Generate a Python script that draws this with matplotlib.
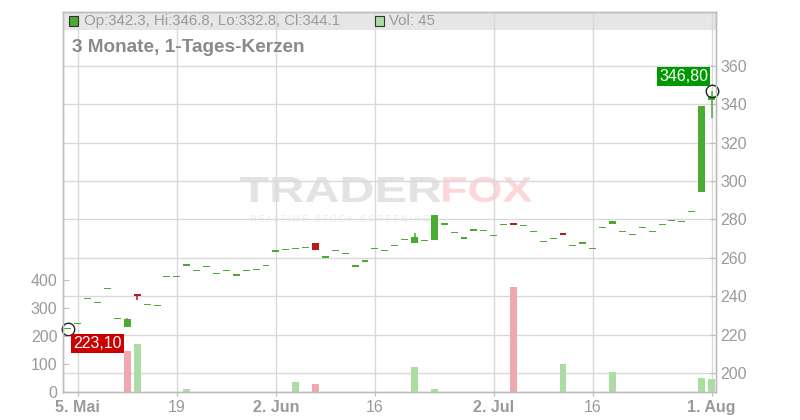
import matplotlib
matplotlib.use('Agg')
import matplotlib.pyplot as plt
from matplotlib.patches import Rectangle, PathPatch
from matplotlib.textpath import TextPath
from matplotlib.font_manager import FontProperties
from matplotlib.transforms import Affine2D
import numpy as np

plt.rcParams['font.family'] = ['Liberation Sans', 'DejaVu Sans']

# trading-day index of the labelled dates (first candle = 2 May)
tick_pos = [1, 11, 21, 31, 43, 53, 65]
tick_labels = ['5. Mai', '19', '2. Jun', '16', '2. Jul', '16', '1. Aug']
tick_bold = [True, False, True, False, True, False, True]

# daily candles
opens = [223.1, 225.9, 239.0, 236.9, 244.2, 228.4, 224.1, 241.2, 235.8, 235.3,
         250.4, 250.4, 256.0, 253.6, 255.6, 252.0, 253.6, 251.0, 253.6, 254.1,
         256.2, 263.6, 264.3, 264.9, 265.4, 267.8, 260.5, 263.7, 262.1, 255.8,
         258.4, 264.7, 263.7, 266.3, 269.4, 267.6, 268.9, 269.2, 277.6, 273.4,
         270.4, 274.5, 274.1, 271.5, 277.2, 278.4, 276.9, 273.7, 268.5, 270.0,
         272.9, 266.3, 267.8, 264.7, 275.7, 277.8, 273.7, 272.1, 275.7, 273.7,
         277.3, 279.4, 278.8, 284.0, 294.4, 342.3]
highs = [223.1, 225.9, 239.0, 236.9, 244.2, 228.4, 228.8, 241.2, 235.8, 235.3,
         250.4, 250.4, 256.7, 253.6, 255.6, 252.0, 253.6, 251.0, 253.6, 254.1,
         256.2, 263.6, 264.3, 264.9, 265.4, 267.8, 260.5, 263.7, 262.1, 255.8,
         258.4, 264.7, 263.7, 266.3, 269.4, 273.2, 268.9, 282.1, 277.6, 273.4,
         270.4, 274.5, 274.1, 271.5, 277.2, 278.4, 276.9, 273.7, 268.5, 270.0,
         272.9, 266.3, 267.8, 264.7, 275.7, 279.2, 273.7, 272.1, 275.7, 273.7,
         277.3, 279.4, 278.8, 284.0, 339.0, 346.8]
lows = [223.1, 225.9, 239.0, 236.9, 244.2, 228.4, 224.1, 238.1, 235.8, 235.3,
        250.4, 250.4, 256.0, 253.6, 255.6, 252.0, 253.6, 251.0, 253.6, 254.1,
        256.2, 263.6, 264.3, 264.9, 265.4, 264.0, 260.5, 263.7, 262.1, 255.8,
        258.4, 264.7, 263.7, 266.3, 269.4, 267.6, 268.9, 269.2, 277.6, 273.4,
        270.4, 274.5, 274.1, 271.5, 277.2, 277.0, 276.9, 273.7, 268.5, 270.0,
        272.0, 266.3, 267.8, 264.7, 275.7, 277.8, 273.7, 272.1, 275.7, 273.7,
        277.3, 279.4, 278.8, 284.0, 294.4, 332.8]
closes = [223.1, 225.9, 239.0, 236.9, 244.2, 228.4, 228.2, 239.9, 235.8, 235.3,
          250.4, 250.4, 256.7, 253.6, 255.6, 252.0, 253.6, 251.0, 253.6, 254.1,
          256.2, 263.6, 264.3, 264.9, 265.4, 264.0, 260.5, 263.7, 262.1, 255.8,
          258.4, 264.7, 263.7, 266.3, 269.4, 270.9, 268.9, 282.1, 277.6, 273.4,
          270.4, 274.5, 274.1, 271.5, 277.2, 277.0, 276.9, 273.7, 268.5, 270.0,
          272.0, 266.3, 267.8, 264.7, 275.7, 279.2, 273.7, 272.1, 275.7, 273.7,
          277.3, 279.4, 278.8, 284.0, 339.0, 344.1]
volumes = [0, 0, 0, 0, 0, 0, 146, 171, 0, 0,
           0, 0, 11, 0, 0, 0, 0, 0, 0, 0,
           0, 0, 0, 36, 0, 29, 0, 0, 0, 0,
           0, 0, 0, 0, 0, 89, 0, 11, 0, 0,
           0, 0, 0, 0, 0, 375, 0, 0, 0, 0,
           100, 0, 0, 0, 0, 71, 0, 0, 0, 0,
           0, 0, 0, 0, 50, 45]

UP, DOWN = '#4aab32', '#bb1a1a'
VUP, VDOWN = '#acdca4', '#f0a7b0'
GRID, SPINE, TXT = '#d9d9d9', '#bdbdbd', '#9a9a9a'

W, H = 800, 420
fig = plt.figure(figsize=(W / 100, H / 100), dpi=100)
ax = fig.add_axes([63 / W, 28 / H, (716 - 63) / W, 380 / H])
ax2 = ax.twinx()

x = np.arange(len(closes))
o = np.array(opens); c = np.array(closes)
hi = np.array(highs); lo = np.array(lows)

# candles
body_lo = np.minimum(o, c)
body_h = np.abs(c - o)
min_h = 0.65
draw_h = np.maximum(body_h, min_h)
bottoms = body_lo - (draw_h - body_h) / 2
cols = [UP if cc >= oo else DOWN for oo, cc in zip(o, c)]
wick = hi - lo > body_h + 0.01
ax.vlines(x[wick], lo[wick], hi[wick], colors=[cols[i] for i in np.where(wick)[0]],
          lw=1.1, zorder=3)
ax.bar(x, draw_h, bottom=bottoms, width=0.7, color=cols, linewidth=0, zorder=4)

ax.set_xlim(-0.5, 65.45)
ax.set_ylim(190.1, 388.1)
ax.set_yticks(range(200, 361, 20))
ax.yaxis.tick_right()
ax.set_xticks(tick_pos)
ax.set_xticklabels(tick_labels)
for lab, b in zip(ax.get_xticklabels(), tick_bold):
    if b:
        lab.set_fontweight('bold')
ax.tick_params(axis='x', length=3, color=SPINE, labelcolor=TXT, labelsize=11.5, pad=3)
ax.tick_params(axis='y', direction='in', length=4, color=SPINE, labelcolor=TXT,
               labelsize=11.5, pad=3)
ax.grid(True, color=GRID, lw=1)
ax.set_axisbelow(True)

# header band
ax.add_patch(Rectangle((0, 1 - 18 / 380), 1, 18 / 380, transform=ax.transAxes,
                       fc='#e6e6e6', ec='none', zorder=0.2))

# watermark
def box_text(s, x0, y0, x1, y1, color, weight='bold'):
    tp = TextPath((0, 0), s, size=1, prop=FontProperties(family='Liberation Sans', weight=weight))
    ext = tp.get_extents()
    tr = (Affine2D().translate(-ext.x0, -ext.y0)
          .scale((x1 - x0) / ext.width, (y1 - y0) / ext.height)
          .translate(x0, H - y1)
          .scale(1 / W, 1 / H) + fig.transFigure)
    ax.add_patch(PathPatch(tp, transform=tr, fc=color, ec='none', zorder=0.3))

box_text('TRADER', 240, 177, 441, 202, '#e3e3e3')
box_text('FOX', 443, 177, 532, 202, '#fdd6da')
box_text('R E A L T I M E   S T O C K   S C R E E N I N G', 251, 215, 429, 222, '#ececec',
         weight='normal')

# volume
v = np.array(volumes)
prev = np.concatenate([[c[0]], c[:-1]])
vcols = [VUP if cc >= pp else VDOWN for cc, pp in zip(c, prev)]
nz = v > 0
ax2.bar(x[nz], v[nz], width=0.7, color=[vcols[i] for i in np.where(nz)[0]],
        linewidth=0, zorder=2)
ax2.set_ylim(0, 380 / 0.28)
ax2.set_yticks([0, 100, 200, 300, 400])
ax2.yaxis.tick_left()
ax2.tick_params(axis='y', direction='in', length=4, color=SPINE, labelcolor=TXT,
                labelsize=11.5, pad=4)

for a in (ax, ax2):
    for sp in a.spines.values():
        sp.set_color(SPINE)
        sp.set_linewidth(1)

# low / high markers
i_lo = int(np.argmin(lo)); i_hi = int(np.argmax(hi))
for xi, yv in [(i_lo, lo[i_lo]), (i_hi, hi[i_hi])]:
    ax.plot([xi], [yv], 'o', mfc='none', mec='#222222', ms=9, mew=1, zorder=6, clip_on=False)
ax.annotate(f'{lo[i_lo]:.2f}'.replace('.', ','), xy=(i_lo, lo[i_lo]), xytext=(21.3, -10.4),
            textcoords='offset points', ha='center', va='center', color='white',
            fontsize=11.5, zorder=7,
            bbox=dict(boxstyle='square,pad=0.12', fc='#cc0000', ec='none'))
ax.annotate(f'{hi[i_hi]:.2f}'.replace('.', ','), xy=(i_hi, hi[i_hi]), xytext=(-20.2, 10.8),
            textcoords='offset points', ha='center', va='center', color='white',
            fontsize=11.5, zorder=7,
            bbox=dict(boxstyle='square,pad=0.12', fc='#009a00', ec='none'))

# legend row in header
fig.add_artist(Rectangle((69 / W, 1 - 26 / H), 9 / W, 10 / H, transform=fig.transFigure,
                         fc=UP, ec='#333333', lw=0.8))
fig.text(84 / W, 1 - 21 / H,
         f'Op:{opens[-1]:.1f}, Hi:{highs[-1]:.1f}, Lo:{lows[-1]:.1f}, Cl:{closes[-1]:.1f}',
         color=TXT, fontsize=10.8, va='center', ha='left')
fig.add_artist(Rectangle((375 / W, 1 - 26 / H), 9 / W, 10 / H, transform=fig.transFigure,
                         fc=VUP, ec='#333333', lw=0.8))
fig.text(389 / W, 1 - 21 / H, f'Vol: {volumes[-1]}', color=TXT, fontsize=10.8,
         va='center', ha='left')
fig.text(72 / W, 1 - 48 / H, '3 Monate, 1-Tages-Kerzen', color='#8a8a8a', fontsize=13.7,
         fontweight='bold', va='center', ha='left')

fig.savefig('out.png', dpi=100)
